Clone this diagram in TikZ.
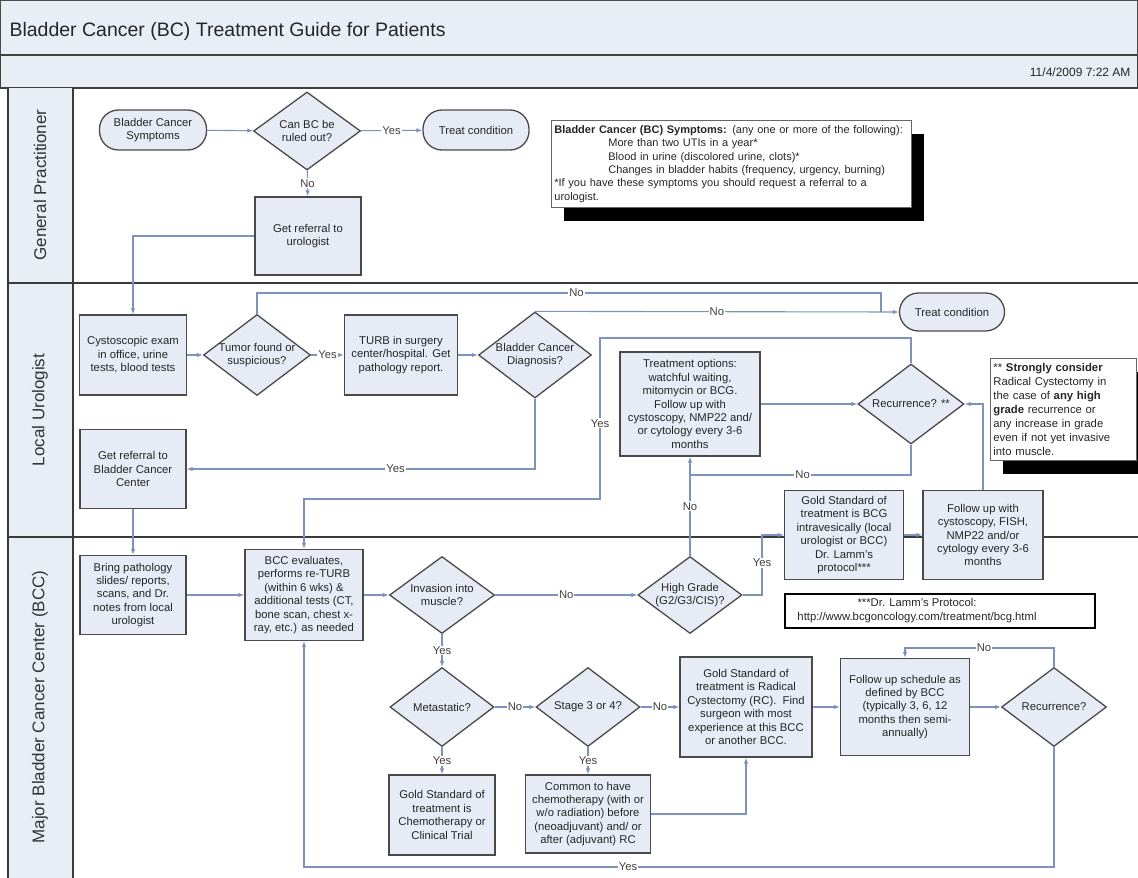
\documentclass[tikz,border=0pt]{standalone}
\usepackage{fontspec}
\setmainfont{Liberation Sans}
\usetikzlibrary{shapes.geometric,arrows.meta,calc,shadows}
\definecolor{boxfill}{HTML}{E7EBF5}
\definecolor{boxline}{HTML}{4A4A4A}
\definecolor{flow}{HTML}{7D92BC}
\definecolor{bandfill}{HTML}{E9EEF6}
\definecolor{laneline}{HTML}{3A3A3A}
\begin{document}
\begin{tikzpicture}[x=1pt,y=-1pt,
  every node/.style={font=\fontsize{11.3}{13.4}\selectfont, text=black!85},
  proc/.style={draw=boxline, fill=boxfill, line width=1.3pt, rectangle, align=center, inner sep=1pt},
  dec/.style={draw=boxline, fill=boxfill, line width=1.3pt, diamond, inner sep=0pt},
  term/.style={draw=boxline, fill=boxfill, line width=1.3pt, rectangle, rounded corners=19pt, align=center},
  note/.style={draw=black!60, fill=white, line width=0.8pt, rectangle, align=left, inner xsep=3pt, inner ysep=2pt,
    drop shadow={shadow xshift=13pt, shadow yshift=-14pt, fill=black, opacity=1}},
  flowline/.style={draw=flow, line width=1.1pt},
  arr/.style={flowline, -{Latex[length=6pt,width=4.5pt]}},
  lbl/.style={fill=white, inner sep=1pt, text=black!75},
  lanename/.style={rotate=90, font=\fontsize{17}{20}\selectfont, text=black!80},
]
\useasboundingbox (0,0) rectangle (1138,878);
\fill[white] (0,0) rectangle (1138,878);

% title and date bands
\draw[fill=bandfill, draw=black!70, line width=1pt] (0.5,0.5) rectangle (1137.5,55);
\draw[fill=bandfill, draw=black!75, line width=1.4pt] (0.5,55) rectangle (1137.5,88);
\node[anchor=west, font=\fontsize{19.5}{22}\selectfont, text=black!85] (title) at (6,31)
  {Bladder Cancer (BC) Treatment Guide for Patients};
\node[anchor=east, font=\fontsize{12}{14}\selectfont, text=black!85] (date) at (1134,72) {11/4/2009 7:22 AM};

% swimlanes
\fill[bandfill] (8,88) rectangle (73,878);
\draw[laneline, line width=1.6pt] (8,88) -- (8,878);
\draw[laneline, line width=1.6pt] (73,88) -- (73,878);
\draw[laneline, line width=1.8pt] (8,283) -- (1138,283);
\draw[laneline, line width=1.8pt] (8,537) -- (1138,537);
\node[lanename] (lanegp) at (40,185) {General Practitioner};
\node[lanename] (laneuro) at (40,410) {Local Urologist};
\node[lanename] (lanebcc) at (40,707) {Major Bladder Cancer Center (BCC)};

% General Practitioner
\node[term, minimum width=107pt, minimum height=40pt] (sym) at (153,130) {Bladder Cancer\\Symptoms};
\node[dec, minimum width=107pt, minimum height=78pt, label={[align=center]center:Can BC be\\ruled out?}] (canbc) at (307,131) {};
\node[term, minimum width=106pt, minimum height=40pt] (treat1) at (476,130) {Treat condition};
\node[proc, minimum width=106pt, minimum height=78pt] (ref1) at (308,236) {Get referral to\\urologist};
\node[note, anchor=north west, text width=354pt, minimum height=87pt, font=\fontsize{11}{13.4}\selectfont] (symnote) at (551,120)
  {\textbf{Bladder Cancer (BC) Symptoms:} (any one or more of the following):\\
   \hspace*{54pt}More than two UTIs in a year*\\
   \hspace*{54pt}Blood in urine (discolored urine, clots)*\\
   \hspace*{54pt}Changes in bladder habits (frequency, urgency, burning)\\
   {*}If you have these symptoms you should request a referral to a\\
   urologist.};

% Local Urologist
\node[proc, minimum width=107pt, minimum height=80pt] (cysto) at (133,355) {Cystoscopic exam\\in office, urine\\tests, blood tests};
\node[dec, minimum width=107pt, minimum height=81pt, label={[align=center]center:Tumor found or\\suspicious?}] (tumor) at (257,355) {};
\node[proc, minimum width=113pt, minimum height=80pt] (turb) at (401,355) {TURB in surgery\\center/hospital. Get\\pathology report.};
\node[dec, minimum width=113pt, minimum height=86pt, label={[align=center]center:Bladder Cancer\\Diagnosis?}] (bcdx) at (535,355) {};
\node[term, minimum width=105pt, minimum height=38pt] (treat2) at (952,312) {Treat condition};
\node[proc, minimum width=106pt, minimum height=79pt] (ref2) at (133,469) {Get referral to\\Bladder Cancer\\Center};
\node[proc, minimum width=140pt, minimum height=104pt] (treatopt) at (690,404)
  {Treatment options:\\watchful waiting,\\mitomycin or BCG.\\Follow up with\\cystoscopy, NMP22 and/\\or cytology every 3-6\\months};
\node[dec, minimum width=106pt, minimum height=80pt, label={center:Recurrence? **}] (recur1) at (911,404) {};
\node[note, anchor=north west, text width=140pt, minimum height=102pt, font=\fontsize{11.3}{14}\selectfont] (strong) at (990,358)
  {** \textbf{Strongly consider}\\
   Radical Cystectomy in\\
   the case of \textbf{any high}\\
   \textbf{grade} recurrence or\\
   any increase in grade\\
   even if not yet invasive\\
   into muscle.};

% Major Bladder Cancer Center
\node[proc, minimum width=106pt, minimum height=79pt] (bring) at (133,595) {Bring pathology\\slides/ reports,\\scans, and Dr.\\notes from local\\urologist};
\node[proc, minimum width=118pt, minimum height=91pt] (bcceval) at (304,595)
  {BCC evaluates,\\performs re-TURB\\(within 6 wks) \&\\additional tests (CT,\\bone scan, chest x-\\ray, etc.) as needed};
\node[dec, minimum width=105pt, minimum height=77pt, label={[align=center]center:Invasion into\\muscle?}] (invasion) at (442,595) {};
\node[dec, minimum width=104pt, minimum height=77pt, label={[align=center]center:High Grade\\(G2/G3/CIS)?}] (hg) at (690,595) {};
\node[proc, minimum width=119pt, minimum height=89pt] (goldbcg) at (844,535)
  {Gold Standard of\\treatment is BCG\\intravesically (local\\urologist or BCC)\\Dr. Lamm's\\protocol***};
\node[proc, minimum width=120pt, minimum height=89pt] (fish) at (983,535)
  {Follow up with\\cystoscopy, FISH,\\NMP22 and/or\\cytology every 3-6\\months};
\node[draw=black, fill=white, line width=2pt, minimum width=310pt, minimum height=34pt, inner sep=1pt] (lamm) at (940,611)
  {\begin{tabular}{@{}c@{}}***Dr. Lamm's Protocol:\\http://www.bcgoncology.com/treatment/bcg.html\end{tabular}\hspace*{46pt}};
\node[dec, minimum width=104pt, minimum height=79pt, label={center:Metastatic?}] (meta) at (442,707) {};
\node[dec, minimum width=104pt, minimum height=79pt, label={center:Stage 3 or 4?}] (stage) at (588,707) {};
\node[proc, minimum width=106pt, minimum height=80pt] (chemo) at (442,815) {Gold Standard of\\treatment is\\Chemotherapy or\\Clinical Trial};
\node[proc, minimum width=125pt, minimum height=78pt] (common) at (588,814)
  {Common to have\\chemotherapy (with or\\w/o radiation) before\\(neoadjuvant) and/ or\\after (adjuvant) RC};
\node[proc, minimum width=132pt, minimum height=100pt] (goldrc) at (746,707)
  {Gold Standard of\\treatment is Radical\\Cystectomy (RC). \ Find\\surgeon with most\\experience at this BCC\\or another BCC.};
\node[proc, minimum width=129pt, minimum height=97pt] (followsch) at (905,707)
  {Follow up schedule as\\defined by BCC\\(typically 3, 6, 12\\months then semi-\\annually)};
\node[dec, minimum width=105pt, minimum height=79pt, label={center:Recurrence?}] (recur2) at (1054,707) {};

% bends of the routed connectors
\coordinate (tumorno) at (881,293);
\coordinate (nojoin) at (881,312);
\coordinate (ry1) at (600,338);
\coordinate (ry2) at (600,499);
\coordinate (rn) at (690,475);
\coordinate (hy) at (762,535);
\coordinate (rn2) at (followsch.north |- 0,648);
\coordinate (ry3) at (bcceval.south |- 0,867);

% connectors: General Practitioner
\draw[arr] (sym) -- (canbc);
\draw[arr] (canbc) -- node[lbl]{Yes} (treat1);
\draw[arr] (canbc) -- node[lbl]{No} (ref1);
\draw[arr] (ref1.west) -| (cysto.north);

% connectors: Local Urologist
\draw[arr] (cysto) -- (tumor);
\draw[arr] (tumor) -- node[lbl]{Yes} (turb);
\draw[arr] (turb) -- (bcdx);
\draw[flowline] (tumor.north) |- node[lbl, pos=0.756]{No} (tumorno) -- (nojoin);
\draw[arr] (bcdx.north) -- node[lbl]{No} (treat2.west);
\draw[arr] (bcdx.south) |- node[lbl, pos=0.70]{Yes} (ref2.east);
\draw[arr] (ref2) -- (bring);
\draw[arr] (treatopt) -- (recur1);
\draw[arr] (recur1.north) |- (ry1) -- node[lbl, pos=0.53]{Yes} (ry2) -| (bcceval.north);
\draw[flowline] (recur1.south) |- node[lbl, pos=0.745]{No} (rn);
\draw[arr] (fish.north) |- (recur1.east);

% connectors: Major Bladder Cancer Center
\draw[arr] (bring) -- (bcceval);
\draw[arr] (bcceval) -- (invasion);
\draw[arr] (invasion) -- node[lbl]{No} (hg);
\draw[arr] (hg) -- node[lbl]{No} (treatopt);
\draw[arr] (hg.east) -| node[lbl, pos=0.77]{Yes} (hy) -- (goldbcg.west);
\draw[arr] (goldbcg) -- (fish);
\draw[arr] (invasion) -- node[lbl]{Yes} (meta);
\draw[arr] (meta) -- node[lbl]{No} (stage);
\draw[arr] (meta) -- node[lbl]{Yes} (chemo);
\draw[arr] (stage) -- node[lbl]{Yes} (common);
\draw[arr] (stage) -- node[lbl]{No} (goldrc);
\draw[arr] (common.east) -| (goldrc.south);
\draw[arr] (goldrc) -- (followsch);
\draw[arr] (followsch) -- (recur2);
\draw[arr] (recur2.north) |- node[lbl, pos=0.735]{No} (rn2) -- (followsch.north);
\draw[arr] (recur2.south) |- node[lbl, pos=0.784]{Yes} (ry3) -- (bcceval.south);
\end{tikzpicture}
\end{document}
